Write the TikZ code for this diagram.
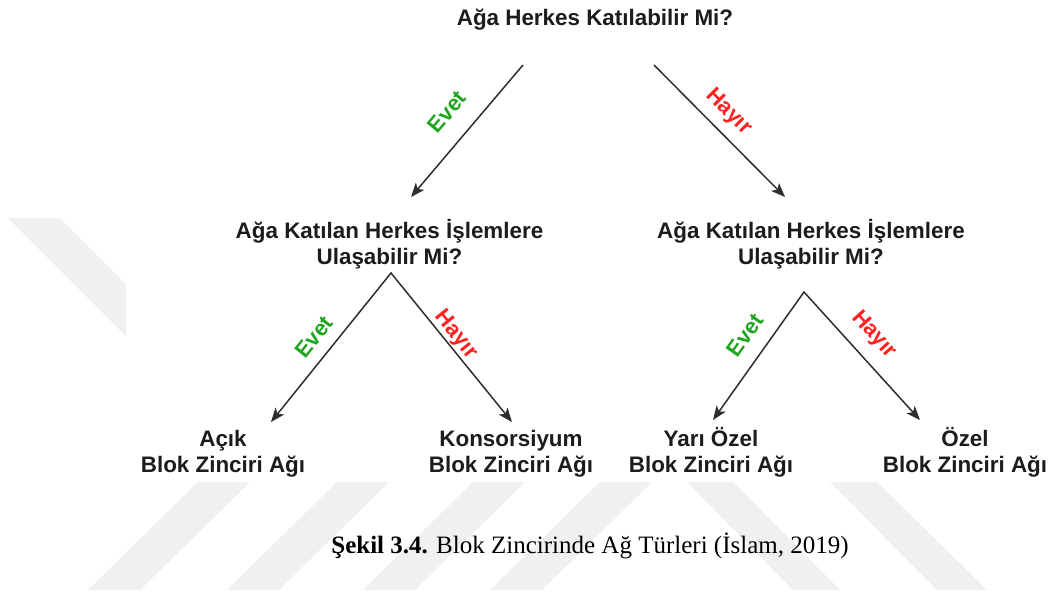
\documentclass[tikz,border=0pt]{standalone}
\usepackage{fontspec}
\setmainfont{Liberation Serif}
\newfontfamily\diagfont{Liberation Sans}
\usetikzlibrary{arrows.meta}

\definecolor{ink}{HTML}{1C1C1C}
\definecolor{wire}{HTML}{2E2E2E}
\definecolor{yesgreen}{HTML}{1FA51F}
\definecolor{nored}{HTML}{FF2020}
\definecolor{stripe}{HTML}{F0F0F0}

\begin{document}
\begin{tikzpicture}[x=1pt,y=-1pt,
  question/.style={font=\diagfont\bfseries\fontsize{22.4}{26.5}\selectfont,
    text=ink, align=center, inner sep=0pt, anchor=base},
  yes/.style={font=\diagfont\bfseries\fontsize{22}{26}\selectfont,
    text=yesgreen, inner sep=0pt},
  no/.style={font=\diagfont\bfseries\fontsize{22}{26}\selectfont,
    text=nored, inner sep=0pt},
  caption/.style={font=\fontsize{25}{30}\selectfont, text=black,
    inner sep=0pt, anchor=base},
  head/.tip={Stealth[length=14pt,width=11pt,inset=3.5pt]},
  tip/.style={-head},
  twotips/.style={head-head},
  link/.style={draw=wire, line width=1.5pt, line join=miter}]

\useasboundingbox (0,0) rectangle (1050,592);
\fill[white] (0,0) rectangle (1050,592);

% faint page watermark
\fill[stripe] (8,218) -- (60,218) -- (126,284) -- (126,336) -- cycle;
\foreach \b in {88,227,363,490}
  \fill[stripe] (\b,590) -- (\b+52,590) -- (\b+162,482) -- (\b+110,482) -- cycle;
\fill[stripe] (687,482) -- (733,482) -- (840,590) -- (793,590) -- cycle;
\fill[stripe] (830,482) -- (877,482) -- (987,590) -- (937,590) -- cycle;

% questions and outcomes (anchored at the baseline of the last line)
\node[question] (root) at (595,25) {Ağa Herkes Katılabilir Mi?};
\node[question] (askL) at (389.5,264.5) {Ağa Katılan Herkes İşlemlere\\Ulaşabilir Mi?};
\node[question] (askR) at (811,264.5) {Ağa Katılan Herkes İşlemlere\\Ulaşabilir Mi?};
\node[question] (open) at (223,472.5) {Açık\\Blok Zinciri Ağı};
\node[question] (cons) at (511,472.5) {Konsorsiyum\\Blok Zinciri Ağı};
\node[question] (semi) at (711,472.5) {Yarı Özel\\Blok Zinciri Ağı};
\node[question] (priv) at (965,472.5) {Özel\\Blok Zinciri Ağı};

% connector end points
\coordinate (rootL) at (523,65);
\coordinate (rootR) at (654,65);
\coordinate (askLin) at (411,197);
\coordinate (askRin) at (785,197);
\coordinate (forkL) at (391,273);
\coordinate (forkR) at (804,292);
\coordinate (openIn) at (271,422);
\coordinate (consIn) at (512,422);
\coordinate (semiIn) at (713,420);
\coordinate (privIn) at (920,420);

% connectors
\draw[link,tip] (rootL) -- (askLin);
\draw[link,tip] (rootR) -- (askRin);
\draw[link,twotips] (openIn) -- (forkL) -- (consIn);
\draw[link,twotips] (semiIn) -- (forkR) -- (privIn);

% branch labels
\node[yes, rotate=49.7] (yesTop) at (447,111.7) {Evet};
\node[no, rotate=-45.2] (noTop) at (728.7,112) {Hayır};
\node[yes, rotate=51.2] (yesL) at (314,337) {Evet};
\node[no, rotate=-50.9] (noL) at (456,335) {Hayır};
\node[yes, rotate=54.6] (yesR) at (745,335) {Evet};
\node[no, rotate=-47.8] (noR) at (874,335) {Hayır};

% caption
\node[caption] (cap) at (590,553.3) {\textbf{Şekil 3.4.} Blok Zincirinde Ağ Türleri (İslam, 2019)};
\end{tikzpicture}
\end{document}
